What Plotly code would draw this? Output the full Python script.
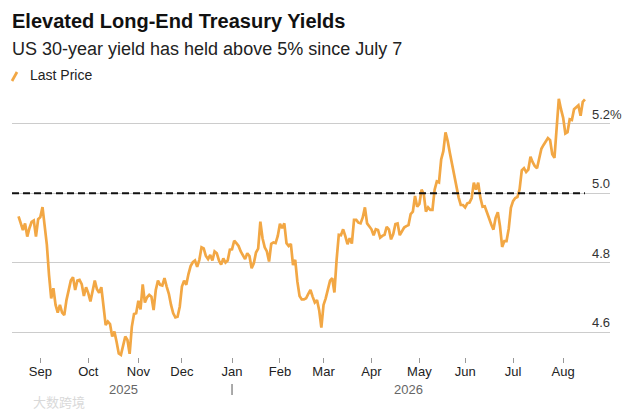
import plotly.graph_objects as go
import pandas as pd

# US 30-year Treasury yield, one value per business day from Aug 18 2025
start_date = "2025-08-18"
yield_30y = [
    4.933, 4.912, 4.894, 4.913, 4.875, 4.899, 4.917, 4.921, 4.875, 4.925,
    4.931, 4.960, 4.909, 4.851, 4.764, 4.697, 4.726, 4.678, 4.656, 4.678,
    4.656, 4.649, 4.692, 4.725, 4.748, 4.758, 4.721, 4.748, 4.750, 4.738,
    4.704, 4.729, 4.712, 4.688, 4.723, 4.748, 4.723, 4.713, 4.729, 4.678,
    4.620, 4.630, 4.623, 4.587, 4.601, 4.572, 4.538, 4.534, 4.565, 4.587,
    4.577, 4.537, 4.615, 4.652, 4.654, 4.690, 4.665, 4.737, 4.685, 4.700,
    4.707, 4.702, 4.663, 4.721, 4.748, 4.736, 4.734, 4.755, 4.731, 4.710,
    4.678, 4.654, 4.642, 4.644, 4.673, 4.731, 4.748, 4.736, 4.767, 4.790,
    4.801, 4.806, 4.788, 4.808, 4.844, 4.841, 4.819, 4.810, 4.822, 4.806,
    4.832, 4.827, 4.806, 4.794, 4.812, 4.800, 4.806, 4.837, 4.838, 4.863,
    4.856, 4.848, 4.832, 4.819, 4.810, 4.827, 4.819, 4.784, 4.798, 4.829,
    4.840, 4.918, 4.870, 4.844, 4.832, 4.803, 4.854, 4.858, 4.856, 4.877,
    4.912, 4.899, 4.913, 4.856, 4.848, 4.854, 4.793, 4.808, 4.745, 4.704,
    4.694, 4.694, 4.697, 4.710, 4.721, 4.702, 4.685, 4.692, 4.663, 4.613,
    4.678, 4.697, 4.723, 4.748, 4.755, 4.714, 4.808, 4.880, 4.879, 4.896,
    4.876, 4.853, 4.870, 4.855, 4.923, 4.923, 4.915, 4.913, 4.930, 4.959,
    4.913, 4.905, 4.896, 4.879, 4.896, 4.894, 4.872, 4.877, 4.880, 4.903,
    4.896, 4.867, 4.882, 4.911, 4.913, 4.879, 4.892, 4.901, 4.905, 4.908,
    4.940, 4.947, 4.992, 4.961, 4.969, 5.010, 4.998, 4.947, 4.959, 4.952,
    4.952, 5.010, 5.034, 5.031, 5.097, 5.121, 5.175, 5.150, 5.116, 5.082,
    5.053, 5.012, 4.988, 4.966, 4.966, 4.959, 4.971, 4.973, 4.986, 5.030,
    5.010, 5.030, 4.987, 4.961, 4.962, 4.945, 4.926, 4.910, 4.895, 4.929,
    4.945, 4.905, 4.845, 4.862, 4.862, 4.897, 4.958, 4.977, 4.986, 4.989,
    5.011, 5.066, 5.072, 5.061, 5.068, 5.105, 5.089, 5.078, 5.072, 5.102,
    5.128, 5.139, 5.150, 5.159, 5.153, 5.112, 5.102, 5.203, 5.272, 5.242,
    5.217, 5.172, 5.176, 5.213, 5.211, 5.242, 5.249, 5.253, 5.223, 5.263,
    5.270,
]
dates = pd.bdate_range(start_date, periods=len(yield_30y))

month_ticks = ["2025-09-01", "2025-10-01", "2025-11-03", "2025-12-01",
               "2026-01-01", "2026-02-02", "2026-03-02", "2026-04-01",
               "2026-05-01", "2026-06-01", "2026-07-01", "2026-08-03"]
month_labels = ["Sep", "Oct", "Nov", "Dec", "Jan", "Feb", "Mar", "Apr",
                "May", "Jun", "Jul", "Aug"]
years = [2025, 2026]
ytick_vals = [4.6, 4.8, 5.0, 5.2]
ytick_text = ["4.6", "4.8", "5.0", "5.2%"]
threshold = 5.0

FONT = "Liberation Sans, Arial, sans-serif"
ORANGE = "#F2A744"

# page puts the figure 8px in from the top-left, so the margins are trimmed
# by 8; plot area on screen is x 12..610, y 96..357
def px(p):
    return (p - 12) / 598.0

def py(p):
    return (357 - p) / 261.0


fig = go.Figure()
fig.add_trace(go.Scatter(
    x=dates, y=yield_30y, mode="lines",
    line=dict(color=ORANGE, width=2.7),
    name="Last Price", showlegend=False
))

# 5% reference line
fig.add_shape(type="line", xref="x", yref="y",
              x0="2025-08-13", x1=dates[-1], y0=threshold, y1=threshold,
              line=dict(color="#111111", width=2, dash="7px,4px"))

# year separator under Jan
fig.add_shape(type="line", xref="x", yref="paper",
              x0="2026-01-01", x1="2026-01-01", y0=py(384), y1=py(395),
              line=dict(color="#555555", width=1))

annotations = []
annotations.append(dict(text="<b>Elevated Long-End Treasury Yields</b>",
                        x=px(10), y=py(21), xref="paper", yref="paper",
                        xanchor="left", yanchor="middle", showarrow=False,
                        font=dict(family=FONT, size=20, color="#111111")))
annotations.append(dict(text="US 30-year yield has held above 5% since July 7",
                        x=px(10), y=py(49), xref="paper", yref="paper",
                        xanchor="left", yanchor="middle", showarrow=False,
                        font=dict(family=FONT, size=18, color="#222222")))
annotations.append(dict(text="Last Price",
                        x=px(28), y=py(75), xref="paper", yref="paper",
                        xanchor="left", yanchor="middle", showarrow=False,
                        font=dict(family=FONT, size=14, color="#222222")))
fig.add_shape(type="line", xref="paper", yref="paper",
              x0=px(12), y0=py(81), x1=px(17), y1=py(72),
              line=dict(color=ORANGE, width=2.7))

for v, t in zip(ytick_vals, ytick_text):
    annotations.append(dict(text=t, x=px(590), y=v, xref="paper", yref="y",
                            xanchor="left", yanchor="bottom", showarrow=False,
                            font=dict(family=FONT, size=13, color="#333333")))

for yr in years:
    idx = [i for i, d in enumerate(dates) if d.year == yr]
    mid = dates[(idx[0] + idx[-1]) // 2]
    annotations.append(dict(text=str(yr), x=mid, y=py(389), xref="x", yref="paper",
                            xanchor="center", yanchor="middle", showarrow=False,
                            font=dict(family=FONT, size=13, color="#666666")))

annotations.append(dict(text="大数跨境", x=px(31), y=py(401), xref="paper", yref="paper",
                        xanchor="left", yanchor="middle", showarrow=False,
                        font=dict(family="Noto Sans CJK SC", size=13, color="#d9d9d9")))

fig.update_layout(
    width=636, height=414, autosize=False,
    margin=dict(l=4, r=34, t=88, b=65),
    plot_bgcolor="white", paper_bgcolor="white",
    font=dict(family=FONT, size=13, color="#222222"),
    annotations=annotations,
    showlegend=False,
)
fig.update_xaxes(
    type="date",
    range=["2025-08-13", "2026-09-01 12:00"],
    rangebreaks=[dict(bounds=["sat", "mon"])],
    tickmode="array", tickvals=month_ticks, ticktext=month_labels,
    ticks="outside", ticklen=5, tickwidth=1, tickcolor="#999999",
    ticklabelstandoff=-3,
    tickfont=dict(family=FONT, size=13, color="#222222"),
    showgrid=False, showline=False, zeroline=False,
)
fig.update_yaxes(
    range=[4.528, 5.28],
    tickmode="array", tickvals=ytick_vals,
    showticklabels=False, ticks="",
    showgrid=True, gridcolor="#cccccc", gridwidth=1,
    zeroline=False, showline=False,
)

fig.write_html("out.html")
